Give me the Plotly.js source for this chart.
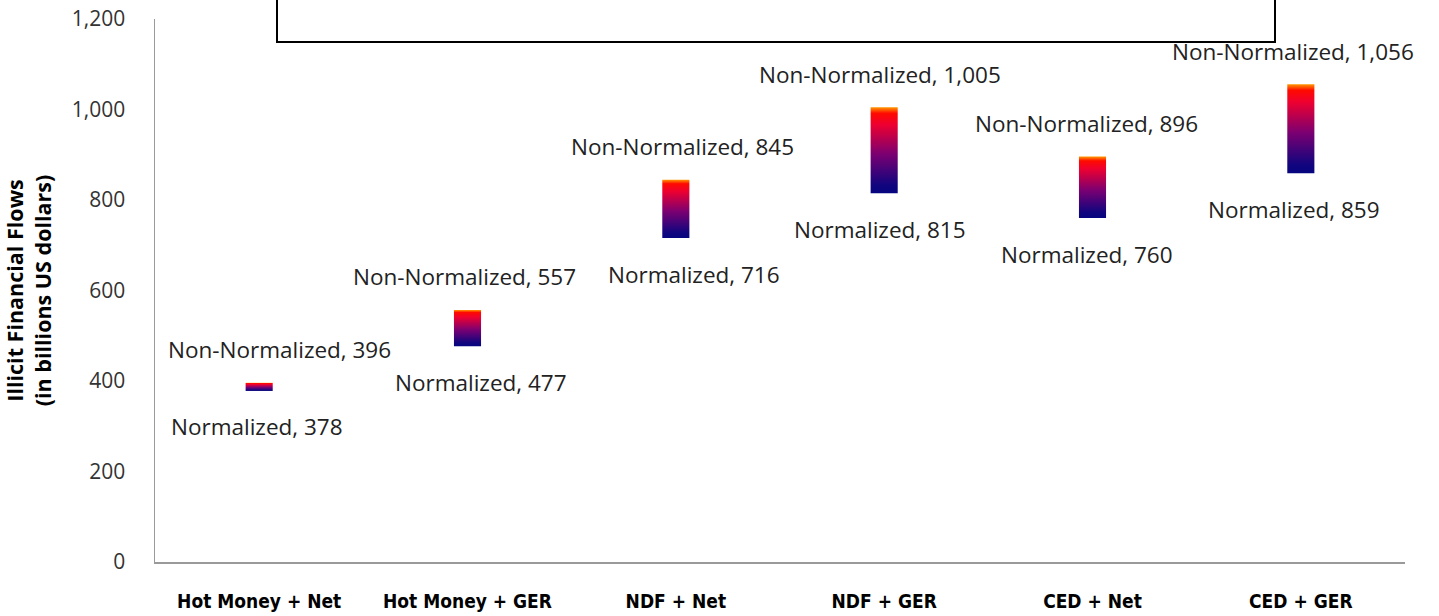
<!DOCTYPE html>
<html>
<head>
<meta charset="utf-8">
<script src="https://cdn.plot.ly/plotly-3.0.1.min.js"></script>
<style>html,body{margin:0;padding:0;background:#fff;}#chart{width:1439px;height:616px;}</style>
</head>
<body>
<div id="chart"></div>
<script>
// ---- data ----
var categories = ["Hot Money + Net", "Hot Money + GER", "NDF + Net", "NDF + GER", "CED + Net", "CED + GER"];
var normalized = [378, 477, 716, 815, 760, 859];
var nonNormalized = [396, 557, 845, 1005, 896, 1056];
var yTickValues = [0, 200, 400, 600, 800, 1000, 1200];

// ---- style ----
var halfWidth = 0.065;
var nnShift = [20, -3, 7, -4, -6, -8];
var nShift = [-2, 13, 18, -4, -6, -7];
var gradient = [[0, '#05057f'], [0.1, '#12057e'], [0.45, '#7a0072'], [0.8, '#ee0030'], [0.93, '#ff0a00'], [1, '#ff9a00']];
var labelFont = {family: '"Open Sans", Lato, sans-serif', size: 22.5, color: '#222222'};

var traces = [];
var annotations = [];
categories.forEach(function (c, i) {
  var lo = normalized[i], hi = nonNormalized[i];
  traces.push({
    type: 'scatter', mode: 'lines',
    x: [i - halfWidth, i + halfWidth, i + halfWidth, i - halfWidth, i - halfWidth],
    y: [lo, lo, hi, hi, lo],
    fill: 'toself',
    fillgradient: {type: 'vertical', colorscale: gradient},
    line: {width: 0, color: 'rgba(0,0,0,0)'},
    hoverinfo: 'skip', showlegend: false
  });
  annotations.push({
    x: i, y: hi, xref: 'x', yref: 'y', showarrow: false,
    text: 'Non-Normalized, ' + hi.toLocaleString('en-US'),
    font: labelFont, yanchor: 'middle', xanchor: 'center', yshift: 33, xshift: nnShift[i]
  });
  annotations.push({
    x: i, y: lo, xref: 'x', yref: 'y', showarrow: false,
    text: 'Normalized, ' + lo.toLocaleString('en-US'),
    font: labelFont, yanchor: 'middle', xanchor: 'center', yshift: -36, xshift: nShift[i]
  });
});

var layout = {
  width: 1439, height: 616,
  margin: {l: 155, r: 34, t: 19, b: 54},
  paper_bgcolor: '#ffffff', plot_bgcolor: '#ffffff',
  showlegend: false,
  xaxis: {
    range: [-0.5, categories.length - 0.5],
    tickvals: categories.map(function (c, i) { return i; }),
    ticktext: categories,
    showgrid: false, zeroline: false,
    showline: true, linecolor: '#9a9a9a', linewidth: 1.5,
    ticks: '', ticklabelstandoff: 22,
    tickfont: {family: '"Liberation Sans Narrow", "DejaVu Sans Condensed", sans-serif', size: 19, color: '#000000', weight: 'bold'},
    fixedrange: true
  },
  yaxis: {
    range: [0, 1200],
    tickvals: yTickValues,
    tickformat: ',d',
    showgrid: false, zeroline: false,
    showline: true, linecolor: '#9a9a9a', linewidth: 1.5,
    ticks: '', ticklabelstandoff: 24,
    tickfont: {family: '"Open Sans", Lato, sans-serif', size: 21, color: '#333333'},
    title: {text: '<b>Illicit Financial Flows</b><br><b>(in billions US dollars)</b>', standoff: 18,
            font: {family: '"Open Sans", Lato, sans-serif', size: 21.5, color: '#000000'}},
    fixedrange: true
  },
  annotations: annotations,
  shapes: [{
    type: 'rect', xref: 'paper', yref: 'paper',
    x0: (277 - 155) / 1250, x1: (1275 - 155) / 1250,
    y0: (562 - 42) / 543, y1: 1.2,
    line: {color: '#000000', width: 2}, fillcolor: 'rgba(0,0,0,0)', layer: 'above'
  }]
};

Plotly.newPlot('chart', traces, layout, {displayModeBar: false, staticPlot: true});
</script>
</body>
</html>
